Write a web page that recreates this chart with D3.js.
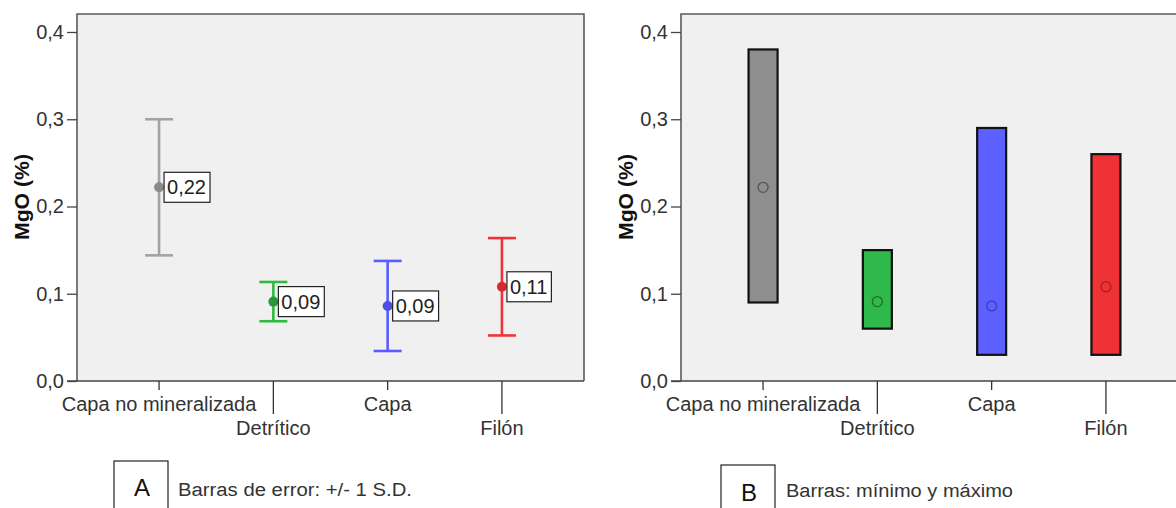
<!DOCTYPE html>
<html>
<head>
<meta charset="utf-8">
<script src="https://cdn.jsdelivr.net/npm/d3@7"></script>
<style>
  html, body { margin: 0; padding: 0; background: #fff; }
  svg { display: block; font-family: "Liberation Sans", Arial, sans-serif; }
</style>
</head>
<body>
<svg id="chart" width="1176" height="508"></svg>
<script>
// MgO (%) by deposit type
const categories = ["Capa no mineralizada", "Detrítico", "Capa", "Filón"];
const means = [0.222, 0.091, 0.086, 0.108];
const sds = [0.078, 0.0225, 0.0516, 0.0558];
const mins = [0.09, 0.06, 0.03, 0.03];
const maxs = [0.38, 0.15, 0.29, 0.26];
const yTicks = [0, 0.1, 0.2, 0.3, 0.4];
const lineColors = ["#a3a3a3", "#2fbb3f", "#5a5cff", "#ef3338"];
const pointColors = ["#8a8a8a", "#279a37", "#4a4ee6", "#d82a2e"];
const barColors = ["#8e8e8e", "#2fb94a", "#5b60ff", "#ef3235"];
const meanStroke = ["#555", "#1d6e2a", "#3a3eb0", "#a82024"];

const svg = d3.select("#chart");
const fmt = v => d3.format(".2f")(v).replace(".", ",");
const tickFmt = v => d3.format(".1f")(v).replace(".", ",");

const y = d3.scaleLinear().domain([0, 0.4]).range([381, 32]);
const frameTop = 14;

function drawPanel(offsetX, kind) {
  const left = 77 + offsetX, right = 584 + offsetX;
  const g = svg.append("g");
  const x = d3.scalePoint().domain(categories).range([left, right]).padding(0.718);

  // plot area
  g.append("rect")
    .attr("x", left).attr("y", frameTop)
    .attr("width", right - left).attr("height", y(0) - frameTop)
    .attr("fill", "#f0f0f0");
  g.append("path")
    .attr("d", `M${left},${y(0)}V${frameTop}H${right}V${y(0)}`)
    .attr("fill", "none").attr("stroke", "#5a5a5a").attr("stroke-width", 1.6);

  // y axis
  const yAxis = d3.axisLeft(y).tickValues(yTicks).tickFormat(tickFmt).tickSize(10).tickPadding(3);
  const ya = g.append("g").attr("transform", `translate(${left},0)`).call(yAxis);
  ya.select(".domain").remove();
  ya.selectAll(".tick line").attr("stroke", "#444").attr("stroke-width", 1.3);
  ya.selectAll(".tick text").attr("font-size", 20).attr("fill", "#333").attr("font-family", "Liberation Sans, Arial, sans-serif");

  // x axis with staggered labels
  const xAxis = d3.axisBottom(x).tickSize(0).tickFormat("");
  const xa = g.append("g").attr("transform", `translate(0,${y(0)})`).call(xAxis);
  xa.select(".domain").remove();
  g.append("line")
    .attr("x1", left - 10).attr("x2", right).attr("y1", y(0)).attr("y2", y(0))
    .attr("stroke", "#444").attr("stroke-width", 1.6);
  categories.forEach((c, i) => {
    const long = i % 2 === 1;
    g.append("line")
      .attr("x1", x(c)).attr("x2", x(c))
      .attr("y1", y(0)).attr("y2", y(0) + (long ? 33 : 9))
      .attr("stroke", "#333").attr("stroke-width", 1.3);
    g.append("text")
      .attr("x", x(c)).attr("y", long ? 435 : 411)
      .attr("text-anchor", "middle").attr("font-size", 20).attr("fill", "#333")
      .text(c);
  });

  // y axis title
  g.append("text")
    .attr("transform", `translate(${left - 48},197) rotate(-90)`)
    .attr("text-anchor", "middle").attr("font-size", 20).attr("font-weight", "bold")
    .attr("fill", "#111")
    .attr("textLength", 86).attr("lengthAdjust", "spacingAndGlyphs")
    .text("MgO (%)");

  if (kind === "sd") {
    const cap = 14;
    categories.forEach((c, i) => {
      const cx = x(c), hi = y(means[i] + sds[i]), lo = y(means[i] - sds[i]);
      const col = lineColors[i];
      g.append("line").attr("x1", cx).attr("x2", cx).attr("y1", hi).attr("y2", lo)
        .attr("stroke", col).attr("stroke-width", 2.6);
      g.append("line").attr("x1", cx - cap).attr("x2", cx + cap).attr("y1", hi).attr("y2", hi)
        .attr("stroke", col).attr("stroke-width", 2.6);
      g.append("line").attr("x1", cx - cap).attr("x2", cx + cap).attr("y1", lo).attr("y2", lo)
        .attr("stroke", col).attr("stroke-width", 2.6);
      g.append("circle").attr("cx", cx).attr("cy", y(means[i])).attr("r", 5)
        .attr("fill", pointColors[i]);
      // value label
      const txt = fmt(means[i]);
      const lbl = g.append("g").attr("transform", `translate(${cx + 5},${y(means[i])})`);
      const t = lbl.append("text").attr("x", 3).attr("y", 7)
        .attr("font-size", 20).attr("fill", "#222").text(txt);
      const w = t.node().getComputedTextLength() + 7;
      lbl.insert("rect", "text").attr("x", 0).attr("y", -15).attr("width", w).attr("height", 30)
        .attr("fill", "#fff").attr("stroke", "#222").attr("stroke-width", 1.2);
    });
  } else {
    const bw = 29;
    categories.forEach((c, i) => {
      const cx = x(c);
      g.append("rect")
        .attr("x", cx - bw / 2).attr("y", y(maxs[i]))
        .attr("width", bw).attr("height", y(mins[i]) - y(maxs[i]))
        .attr("fill", barColors[i]).attr("stroke", "#111").attr("stroke-width", 2.2);
      g.append("circle").attr("cx", cx).attr("cy", y(means[i])).attr("r", 5)
        .attr("fill", "none").attr("stroke", meanStroke[i]).attr("stroke-width", 1.3);
    });
  }
}

drawPanel(0, "sd");
drawPanel(604, "range");

// panel captions
function caption(bx, by, letter, letterY, text, textX, textY, textW) {
  svg.append("rect").attr("x", bx).attr("y", by).attr("width", 54).attr("height", 80)
    .attr("fill", "#fff").attr("stroke", "#222").attr("stroke-width", 1.2);
  svg.append("text").attr("x", bx + 28).attr("y", letterY).attr("text-anchor", "middle")
    .attr("font-size", 24).attr("fill", "#111").text(letter);
  svg.append("text").attr("x", textX).attr("y", textY)
    .attr("font-size", 18).attr("fill", "#333")
    .attr("textLength", textW).attr("lengthAdjust", "spacingAndGlyphs")
    .text(text);
}
caption(114, 461, "A", 496, "Barras de error: +/- 1 S.D.", 178, 496, 234);
caption(721, 465, "B", 501, "Barras: mínimo y máximo", 786, 497, 227);
</script>
</body>
</html>
